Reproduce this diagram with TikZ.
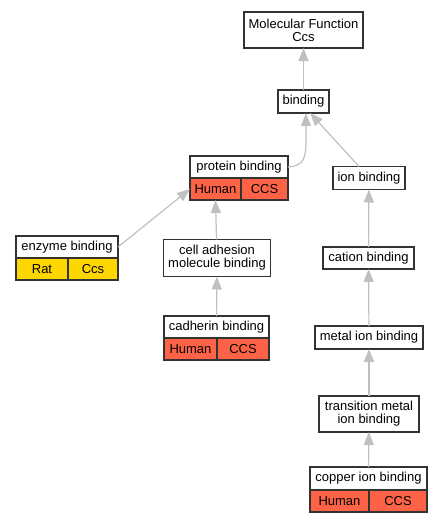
\documentclass[tikz,border=0pt]{standalone}
\usepackage{fontspec}
\setmainfont{Liberation Sans}
\usetikzlibrary{arrows.meta}
\definecolor{edgegray}{HTML}{C0C0C0}
\definecolor{humanred}{HTML}{FF6347}
\definecolor{ratgold}{HTML}{FFD700}
\tikzset{
  term/.style={draw=black!80, line width=1.3pt, fill=white, inner sep=0pt, outer sep=0pt,
    align=center, font=\fontsize{13}{13}\selectfont},
  cell/.style={term, anchor=north west, minimum height=22pt},
  isa/.style={draw=edgegray, line width=1.2pt, -{Triangle[length=13pt,width=10pt]}},
}
\begin{document}
\begin{tikzpicture}[x=1pt,y=-1pt]
        \useasboundingbox (0,0) rectangle (441,523);
        % terms
        \node[term, minimum width=119pt, minimum height=36pt] (mf) at (303.5,30) {Molecular Function\\Ccs};
        \node[term, minimum width=51pt, minimum height=23pt] (binding) at (303.5,101.5) {binding};
        \node[term, minimum width=98pt, minimum height=22pt] (pb) at (239,167) {protein binding};
        \node[cell, fill=humanred, minimum width=51pt] (pbHuman) at (pb.south west) {Human};
        \node[cell, fill=humanred, minimum width=47pt] (pbCCS) at (pbHuman.north east) {CCS};
        \node[term, minimum width=72pt, minimum height=23pt] (ion) at (369,178) {ion binding};
        \node[term, minimum width=102pt, minimum height=22pt] (eb) at (67,247) {enzyme binding};
        \node[cell, fill=ratgold, minimum width=52pt] (ebRat) at (eb.south west) {Rat};
        \node[cell, fill=ratgold, minimum width=50pt] (ebCcs) at (ebRat.north east) {Ccs};
        \node[term, minimum width=107pt, minimum height=37pt] (cam) at (217,258) {cell adhesion\\molecule binding};
        \node[term, minimum width=91pt, minimum height=22pt] (cation) at (368.5,258) {cation binding};
        \node[term, minimum width=105pt, minimum height=22pt] (cad) at (216.5,327) {cadherin binding};
        \node[cell, fill=humanred, minimum width=53pt] (cadHuman) at (cad.south west) {Human};
        \node[cell, fill=humanred, minimum width=52pt] (cadCCS) at (cadHuman.north east) {CCS};
        \node[term, minimum width=108pt, minimum height=23pt] (metal) at (369,337.5) {metal ion binding};
        \node[term, minimum width=100pt, minimum height=36pt] (tm) at (369,414) {transition metal\\ion binding};
        \node[term, minimum width=117pt, minimum height=23pt] (copper) at (368.5,478.5) {copper ion binding};
        \node[cell, fill=humanred, minimum width=59pt] (cuHuman) at (copper.south west) {Human};
        \node[cell, fill=humanred, minimum width=58pt] (cuCCS) at (cuHuman.north east) {CCS};
        % is_a links
        \draw[isa] (binding) -- (mf);
        \draw[isa] (pb.east) .. controls (304,166) and (306,158) .. (306,140) -- (binding.-78);
        \draw[isa] (ion.131) -- (binding.-60);
        \draw[isa] (eb.east) -- (pbHuman.west);
        \draw[isa] (cam) -- (pbHuman.south);
        \draw[isa] (cad) -- (cam);
        \draw[isa] (cation) -- (ion);
        \draw[isa] (metal) -- (cation);
        \draw[isa] (tm) -- (metal);
        \draw[isa] (copper) -- (tm);
\end{tikzpicture}
\end{document}
